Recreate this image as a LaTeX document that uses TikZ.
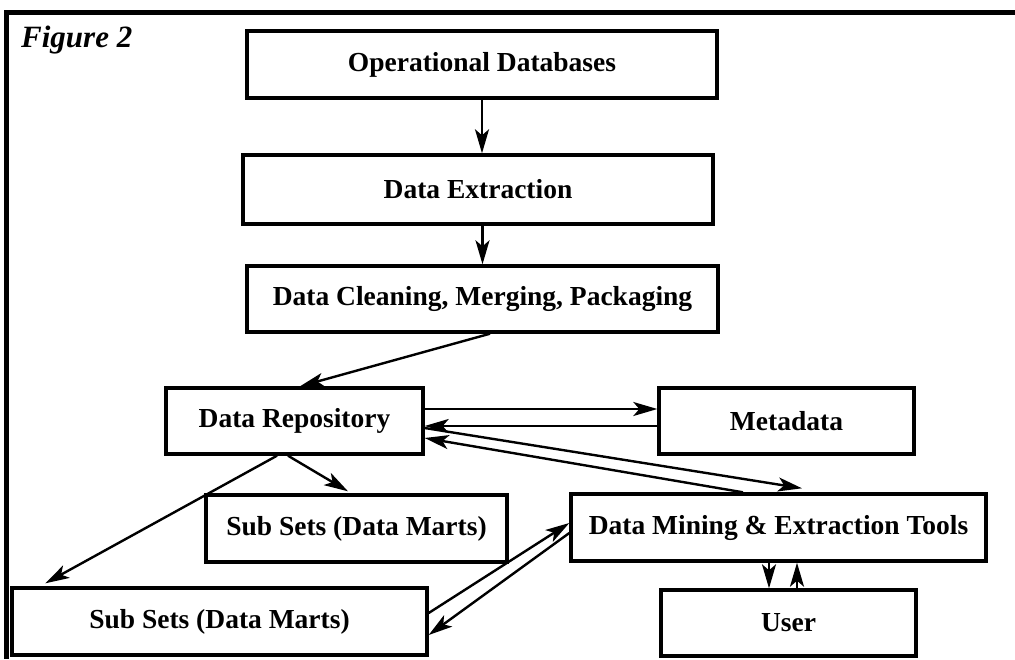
\documentclass[tikz,border=0pt]{standalone}
\usepackage{fontspec}
\setmainfont{Liberation Serif}
\usetikzlibrary{arrows.meta}
\begin{document}
\begin{tikzpicture}[x=1pt,y=-1pt,
  box/.style={draw, line width=3.4pt, rectangle, inner sep=0pt, font=\bfseries\fontsize{27.5}{32}\selectfont},
  arr/.style={line width=2.4pt, -{Stealth[length=24pt 0,width=14pt 0,inset=6pt 0]}},
  frame/.style={line width=5pt, line join=miter}]
\useasboundingbox (0,0) rectangle (1015,659);
% frame
\coordinate (ftr) at (1015,12.5);
\coordinate (ftl) at (6.5,12.5);
\coordinate (fbl) at (6.5,659);
\draw[frame] (ftr) -- (ftl) -- (fbl);
\node[anchor=base west, font=\bfseries\itshape\fontsize{31}{36}\selectfont, inner sep=0pt] (fig) at (21,47) {Figure 2};
% boxes
\node[box, minimum width=470pt, minimum height=67pt] (op) at (482,64.5) {Operational Databases};
\node[box, minimum width=470pt, minimum height=69pt] (ext) at (478,189.5) {Data Extraction};
\node[box, minimum width=471pt, minimum height=66pt] (clean) at (482.5,299) {Data Cleaning, Merging, Packaging};
\node[box, minimum width=257pt, minimum height=66pt] (rep) at (294.5,421) {Data Repository};
\node[box, minimum width=255pt, minimum height=66pt] (meta) at (786.5,421) {Metadata};
\node[box, minimum width=301pt, minimum height=67pt] (sub1) at (356.5,528.5) {Sub Sets (Data Marts)};
\node[box, minimum width=415pt, minimum height=67pt] (mine) at (778.5,527.5) {Data Mining \& Extraction Tools};
\node[box, minimum width=255pt, minimum height=66pt] (user) at (788.5,623) {User};
\node[box, minimum width=415pt, minimum height=67pt] (sub2) at (219.5,621.5) {Sub Sets (Data Marts)};
% connectors
\draw[arr] (op.south) -- (op.south |- ext.north);
\draw[arr] (clean.north |- ext.south) -- (clean.north);
\draw[arr] ([xshift=7.5pt]clean.south) -- ([xshift=5.5pt]rep.north);
\draw[arr] ([yshift=12pt]rep.east) -- ([yshift=12pt]meta.west);
\draw[arr] ([yshift=-5pt]meta.west) -- ([yshift=-5pt]rep.east);
\draw[arr] ([yshift=-7pt]rep.east) -- ([xshift=23.5pt,yshift=4pt]mine.north);
\draw[arr] ([xshift=-35.5pt]mine.north) -- ([yshift=-17pt]rep.east);
\draw[arr] ([xshift=-6.5pt]rep.south) -- ([xshift=-8.5pt,yshift=2pt]sub1.north);
\draw[arr] ([xshift=-17.5pt]rep.south) -- ([xshift=35pt,yshift=3pt]sub2.north west);
\draw[arr] ([yshift=8.5pt]sub2.east) -- ([yshift=4.5pt]mine.west);
\draw[arr] ([yshift=-5.5pt]mine.west) -- ([yshift=-13.5pt]sub2.east);
\draw[arr] ([xshift=-9.5pt]mine.south) -- ([xshift=-9.5pt]mine.south |- user.north);
\draw[arr] ([xshift=18.5pt]mine.south |- user.north) -- ([xshift=18.5pt]mine.south);
\end{tikzpicture}
\end{document}
